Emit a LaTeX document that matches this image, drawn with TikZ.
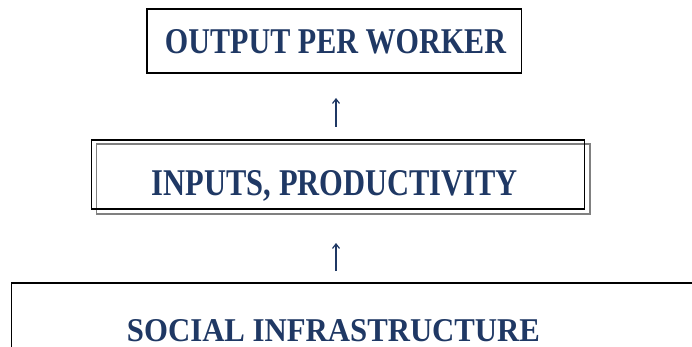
\documentclass[tikz,border=0pt]{standalone}
\usepackage{fontspec}
\usepackage{graphicx}
\setmainfont{Liberation Serif}
\usetikzlibrary{arrows.meta}
\definecolor{titleblue}{RGB}{31,56,100}
\definecolor{shadowgray}{RGB}{128,128,128}
\tikzset{
  boxframe/.style={draw=black, line width=1.4pt, inner sep=0pt, fill=none},
  shadowframe/.style={draw=shadowgray, line width=1.4pt, inner sep=0pt},
  label text/.style={text=titleblue, inner sep=0pt, anchor=base, font=\bfseries},
  uparrow/.style={draw=titleblue, line width=1.3pt, -{Straight Barb[length=4.5pt,width=7pt,line width=1.2pt]}}
}
\newcommand{\fittext}[3]{\resizebox{#1pt}{#2pt}{#3}}
\begin{document}
\begin{tikzpicture}[x=1pt,y=-1pt]
\useasboundingbox (0,0) rectangle (692,347);
\clip (0,0) rectangle (692,347);
% top box
\node[boxframe, minimum width=374.7pt, minimum height=64pt] (topbox) at (334.3,41) {};
\node[label text] (toptext) at (335.5,54) {\fittext{341}{24}{OUTPUT PER WORKER}};
% middle box with shadow
\node[shadowframe, minimum width=493.3pt, minimum height=70pt] (midshadow) at (343.3,179) {};
\node[boxframe, minimum width=492.6pt, minimum height=69pt] (midbox) at (338,174.5) {};
\node[label text] (midtext) at (335,196) {\fittext{366}{25}{INPUTS, PRODUCTIVITY}};
% bottom box
\node[boxframe, minimum width=720pt, minimum height=120pt, anchor=north west] (botbox) at (11,282.3) {};
\node[label text] (bottext) at (333.5,341) {\fittext{413}{22}{SOCIAL INFRASTRUCTURE}};
% arrows
\coordinate (a1s) at (336,127);
\coordinate (a1e) at (336,98);
\coordinate (a2s) at (336,271);
\coordinate (a2e) at (336,243);
\draw[uparrow] (a1s) -- (a1e);
\draw[uparrow] (a2s) -- (a2e);
\end{tikzpicture}
\end{document}
